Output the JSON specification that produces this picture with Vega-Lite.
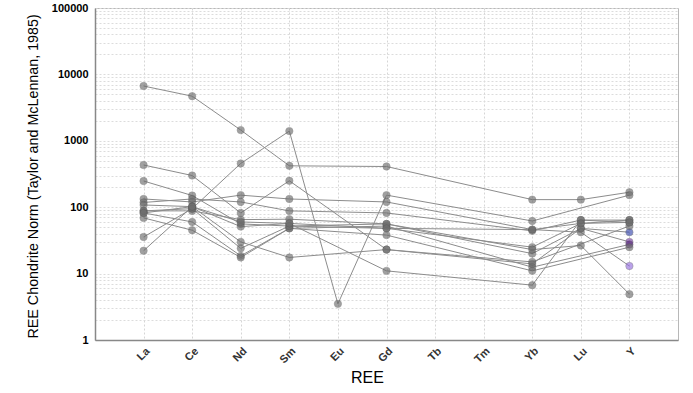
{
  "$schema": "https://vega.github.io/schema/vega-lite/v6.json",
  "width": 583,
  "height": 332,
  "autosize": {"type": "none"},
  "padding": {"left": 95, "top": 8, "right": 15, "bottom": 53},
  "background": "white",
  "config": {"font": "Liberation Sans", "view": {"stroke": "#b8b8b8", "strokeWidth": 1}},
  "data": {"values": [
    {"s":"S1","ree":"La","k":1,"v":6680,"c":"g"},{"s":"S1","ree":"Ce","k":2,"v":4700,"c":"g"},{"s":"S1","ree":"Nd","k":3,"v":1450,"c":"g"},{"s":"S1","ree":"Sm","k":4,"v":420,"c":"g"},{"s":"S1","ree":"Gd","k":6,"v":410,"c":"g"},{"s":"S1","ree":"Yb","k":9,"v":130,"c":"g"},{"s":"S1","ree":"Lu","k":10,"v":130,"c":"g"},{"s":"S1","ree":"Y","k":11,"v":168,"c":"g"},
    {"s":"S2","ree":"La","k":1,"v":35.6,"c":"g"},{"s":"S2","ree":"Ce","k":2,"v":95,"c":"g"},{"s":"S2","ree":"Nd","k":3,"v":456,"c":"g"},{"s":"S2","ree":"Sm","k":4,"v":1400,"c":"g"},{"s":"S2","ree":"Eu","k":5,"v":3.5,"c":"g"},{"s":"S2","ree":"Gd","k":6,"v":152,"c":"g"},{"s":"S2","ree":"Yb","k":9,"v":62,"c":"g"},{"s":"S2","ree":"Y","k":11,"v":152,"c":"g"},
    {"s":"S3","ree":"La","k":1,"v":432,"c":"g"},{"s":"S3","ree":"Ce","k":2,"v":300,"c":"g"},{"s":"S3","ree":"Nd","k":3,"v":82,"c":"g"},{"s":"S3","ree":"Sm","k":4,"v":250,"c":"g"},{"s":"S3","ree":"Gd","k":6,"v":23,"c":"g"},{"s":"S3","ree":"Yb","k":9,"v":14,"c":"g"},{"s":"S3","ree":"Lu","k":10,"v":48,"c":"g"},{"s":"S3","ree":"Y","k":11,"v":30,"c":"p"},
    {"s":"S4","ree":"La","k":1,"v":248,"c":"g"},{"s":"S4","ree":"Ce","k":2,"v":150,"c":"g"},{"s":"S4","ree":"Nd","k":3,"v":56,"c":"g"},{"s":"S4","ree":"Sm","k":4,"v":52,"c":"g"},{"s":"S4","ree":"Gd","k":6,"v":48,"c":"g"},{"s":"S4","ree":"Yb","k":9,"v":25,"c":"g"},{"s":"S4","ree":"Lu","k":10,"v":57,"c":"g"},{"s":"S4","ree":"Y","k":11,"v":64,"c":"g"},
    {"s":"S5","ree":"La","k":1,"v":133,"c":"g"},{"s":"S5","ree":"Ce","k":2,"v":120,"c":"g"},{"s":"S5","ree":"Nd","k":3,"v":152,"c":"g"},{"s":"S5","ree":"Sm","k":4,"v":133,"c":"g"},{"s":"S5","ree":"Gd","k":6,"v":120,"c":"g"},{"s":"S5","ree":"Yb","k":9,"v":46,"c":"g"},{"s":"S5","ree":"Lu","k":10,"v":42,"c":"g"},{"s":"S5","ree":"Y","k":11,"v":13,"c":"l"},
    {"s":"S6","ree":"La","k":1,"v":118,"c":"g"},{"s":"S6","ree":"Ce","k":2,"v":133,"c":"g"},{"s":"S6","ree":"Nd","k":3,"v":120,"c":"g"},{"s":"S6","ree":"Sm","k":4,"v":88,"c":"g"},{"s":"S6","ree":"Gd","k":6,"v":82,"c":"g"},{"s":"S6","ree":"Yb","k":9,"v":44,"c":"g"},{"s":"S6","ree":"Lu","k":10,"v":64,"c":"g"},{"s":"S6","ree":"Y","k":11,"v":59,"c":"g"},
    {"s":"S7","ree":"La","k":1,"v":88,"c":"g"},{"s":"S7","ree":"Ce","k":2,"v":88,"c":"g"},{"s":"S7","ree":"Nd","k":3,"v":65,"c":"g"},{"s":"S7","ree":"Sm","k":4,"v":66,"c":"g"},{"s":"S7","ree":"Gd","k":6,"v":56,"c":"g"},{"s":"S7","ree":"Yb","k":9,"v":20,"c":"g"},{"s":"S7","ree":"Lu","k":10,"v":48,"c":"g"},{"s":"S7","ree":"Y","k":11,"v":42,"c":"b"},
    {"s":"S8","ree":"La","k":1,"v":82,"c":"g"},{"s":"S8","ree":"Ce","k":2,"v":60,"c":"g"},{"s":"S8","ree":"Nd","k":3,"v":18.5,"c":"g"},{"s":"S8","ree":"Sm","k":4,"v":48,"c":"g"},{"s":"S8","ree":"Gd","k":6,"v":52,"c":"g"},{"s":"S8","ree":"Yb","k":9,"v":12.5,"c":"g"},{"s":"S8","ree":"Y","k":11,"v":27.5,"c":"d"},
    {"s":"S9","ree":"La","k":1,"v":69,"c":"g"},{"s":"S9","ree":"Ce","k":2,"v":45,"c":"g"},{"s":"S9","ree":"Nd","k":3,"v":17.5,"c":"g"},{"s":"S9","ree":"Sm","k":4,"v":48,"c":"g"},{"s":"S9","ree":"Gd","k":6,"v":38,"c":"g"},{"s":"S9","ree":"Yb","k":9,"v":11,"c":"g"},{"s":"S9","ree":"Y","k":11,"v":25,"c":"g"},
    {"s":"S10","ree":"La","k":1,"v":22.1,"c":"g"},{"s":"S10","ree":"Ce","k":2,"v":102,"c":"g"},{"s":"S10","ree":"Nd","k":3,"v":30,"c":"g"},{"s":"S10","ree":"Sm","k":4,"v":17.5,"c":"g"},{"s":"S10","ree":"Gd","k":6,"v":23,"c":"g"},{"s":"S10","ree":"Yb","k":9,"v":15,"c":"g"},{"s":"S10","ree":"Y","k":11,"v":52,"c":"g"},
    {"s":"S11","ree":"La","k":1,"v":108,"c":"g"},{"s":"S11","ree":"Ce","k":2,"v":102,"c":"g"},{"s":"S11","ree":"Nd","k":3,"v":51,"c":"g"},{"s":"S11","ree":"Sm","k":4,"v":57,"c":"g"},{"s":"S11","ree":"Gd","k":6,"v":11,"c":"g"},{"s":"S11","ree":"Yb","k":9,"v":6.7,"c":"g"},{"s":"S11","ree":"Lu","k":10,"v":64,"c":"g"},{"s":"S11","ree":"Y","k":11,"v":64,"c":"g"},
    {"s":"S12","ree":"La","k":1,"v":88,"c":"g"},{"s":"S12","ree":"Ce","k":2,"v":95,"c":"g"},{"s":"S12","ree":"Nd","k":3,"v":24,"c":"g"},{"s":"S12","ree":"Sm","k":4,"v":52,"c":"g"},{"s":"S12","ree":"Gd","k":6,"v":56,"c":"g"},{"s":"S12","ree":"Yb","k":9,"v":23,"c":"g"},{"s":"S12","ree":"Lu","k":10,"v":26.5,"c":"g"},{"s":"S12","ree":"Y","k":11,"v":4.9,"c":"g"},
    {"s":"S13","ree":"La","k":1,"v":82,"c":"g"},{"s":"S13","ree":"Ce","k":2,"v":102,"c":"g"},{"s":"S13","ree":"Nd","k":3,"v":60,"c":"g"},{"s":"S13","ree":"Sm","k":4,"v":57,"c":"g"},{"s":"S13","ree":"Gd","k":6,"v":48,"c":"g"},{"s":"S13","ree":"Yb","k":9,"v":46,"c":"g"},{"s":"S13","ree":"Lu","k":10,"v":57,"c":"g"},{"s":"S13","ree":"Y","k":11,"v":59,"c":"g"}
  ]},
  "encoding": {
    "x": {
      "field": "ree", "type": "nominal",
      "scale": {"type": "point", "domain": ["La","Ce","Nd","Sm","Eu","Gd","Tb","Tm","Yb","Lu","Y"], "padding": 1},
      "axis": {
        "title": "REE", "titleFontSize": 16, "titleFontWeight": "normal", "titleColor": "#000000",
        "titleX": 272, "titleY": 42, "titleBaseline": "alphabetic", "titleAlign": "center",
        "labelAngle": -45, "labelFontSize": 11, "labelFontWeight": "bold", "labelColor": "#333333", "labelPadding": 5,
        "ticks": false, "grid": true, "gridDash": [2, 2], "gridColor": "#d6d6d6",
        "domainColor": "#888888", "domainWidth": 1.5
      }
    },
    "y": {
      "field": "v", "type": "quantitative",
      "scale": {"type": "log", "domain": [1, 100000]},
      "axis": {
        "values": [1,2,3,4,5,6,7,8,9,10,20,30,40,50,60,70,80,90,100,200,300,400,500,600,700,800,900,1000,2000,3000,4000,5000,6000,7000,8000,9000,10000,20000,30000,40000,50000,60000,70000,80000,90000,100000],
        "labelExpr": "indexof([1,10,100,1000,10000,100000], datum.value) >= 0 ? format(datum.value, 'd') : ''",
        "labelFontSize": 11, "labelFontWeight": "bold", "labelColor": "#000000", "labelPadding": 7,
        "ticks": false, "grid": true, "gridDash": [2, 2], "gridColor": "#dcdcdc",
        "domainColor": "#888888", "domainWidth": 1.5,
        "title": "REE Chondrite Norm (Taylor and McLennan, 1985)",
        "titleFontSize": 14.3, "titleFontWeight": "normal", "titleColor": "#000000",
        "titleAngle": 270, "titleAlign": "left", "titleBaseline": "bottom",
        "titleX": -55, "titleY": 330
      }
    }
  },
  "layer": [
    {
      "mark": {"type": "line", "color": "#8c8c8c", "strokeWidth": 1},
      "encoding": {"detail": {"field": "s"}, "order": {"field": "k", "type": "quantitative"}}
    },
    {
      "mark": {"type": "circle", "size": 55, "opacity": 0.65, "stroke": "#555555", "strokeWidth": 0.5},
      "encoding": {
        "color": {"field": "c", "type": "nominal", "legend": null,
          "scale": {"domain": ["g","b","p","d","l"], "range": ["#6e6e6e","#3a4bb0","#7b3fa8","#5a2a80","#9670e0"]}}
      }
    }
  ]
}
